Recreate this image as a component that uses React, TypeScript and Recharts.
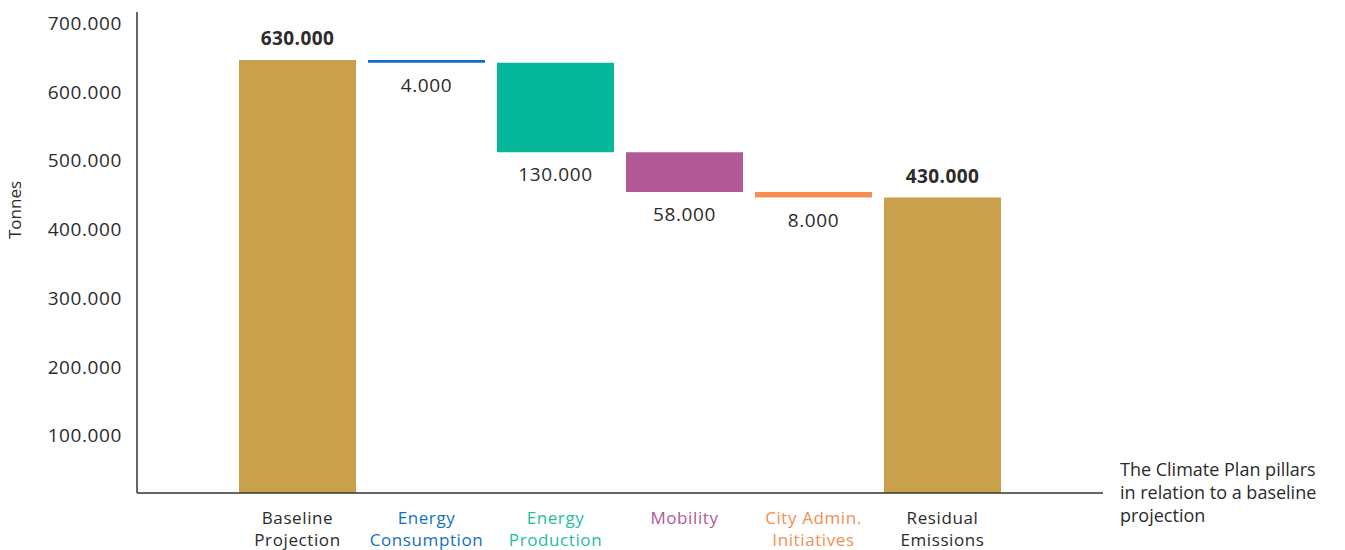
import React from 'react';
import { BarChart, Bar, XAxis, YAxis, Cell, LabelList, Label } from 'recharts';

// Waterfall values (tonnes)
const categories = [
  'Baseline Projection',
  'Energy Consumption',
  'Energy Production',
  'Mobility',
  'City Admin. Initiatives',
  'Residual Emissions',
];
const changes = [630000, -4000, -130000, -58000, -8000, 430000];
const isTotal = [true, false, false, false, false, true];
const tickLines = [
  ['Baseline', 'Projection'],
  ['Energy', 'Consumption'],
  ['Energy', 'Production'],
  ['Mobility'],
  ['City Admin.', 'Initiatives'],
  ['Residual', 'Emissions'],
];
const yTicks = [100000, 200000, 300000, 400000, 500000, 600000, 700000];
const noteLines = ['The Climate Plan pillars', 'in relation to a baseline', 'projection'];

const barColors = ['#C9A14C', '#0F6EBE', '#05B89B', '#B25896', '#F78F52', '#C9A14C'];
const labelColors = ['#2b2b2b', '#1470BF', '#1DBE9F', '#B25896', '#F58D54', '#2b2b2b'];

const FONT = '"Open Sans", Lato, sans-serif';
const TEXT = '#2b2b2b';

const fmt = (n: number) => String(Math.abs(n)).replace(/\B(?=(\d{3})+(?!\d))/g, '.');

// build base/amount pairs for the stacked waterfall
let running = 0;
const data = categories.map((name, i) => {
  const c = changes[i];
  let base = 0;
  let amount = 0;
  if (isTotal[i]) {
    base = 0;
    amount = c;
    running = c;
  } else {
    running += c;
    base = running;
    amount = -c;
  }
  return { name, base, amount };
});

const YTick = ({ x, y, payload }: any) => (
  <text x={x} y={y} dy={18} textAnchor="end" fontSize={19} letterSpacing={0.6} fill={TEXT} fontFamily={FONT}>
    {fmt(payload.value)}
  </text>
);

const XTick = ({ x, y, index }: any) => {
  const lines = tickLines[index] || [];
  return (
    <text x={x} y={y} textAnchor="middle" fontSize={17} letterSpacing={0.6} fill={labelColors[index]} fontFamily={FONT}>
      {lines.map((l, i) => (
        <tspan key={i} x={x} dy={i === 0 ? 29 : 22}>
          {l}
        </tspan>
      ))}
    </text>
  );
};

const ValueLabel = ({ x, y, width, height, index }: any) => {
  const cx = x + width / 2;
  if (isTotal[index]) {
    return (
      <text x={cx} y={y - 15} textAnchor="middle" fontSize={19} fontWeight={700} letterSpacing={0.4} fill={TEXT} fontFamily={FONT}>
        {fmt(changes[index])}
      </text>
    );
  }
  return (
    <text x={cx} y={y + height + 29} textAnchor="middle" fontSize={19} letterSpacing={0.6} fill={TEXT} fontFamily={FONT}>
      {fmt(changes[index])}
    </text>
  );
};

const App = () => {
  return (
    <div style={{ position: 'absolute', left: 0, top: 0, width: 1345, height: 550, background: '#fff' }}>
      <BarChart
        width={1345}
        height={550}
        data={data}
        margin={{ top: 12, right: 242, bottom: 0, left: 0 }}
        barSize={117}
      >
        <XAxis
          dataKey="name"
          padding={{ left: 96, right: 96 }}
          axisLine={{ stroke: '#333', strokeWidth: 1.5 }}
          tickLine={false}
          tickSize={0}
          tick={<XTick />}
          interval={0}
          height={57}
        />
        <YAxis
          width={137}
          domain={[0, 700000]}
          ticks={yTicks}
          axisLine={{ stroke: '#333', strokeWidth: 1.5 }}
          tickLine={false}
          tickSize={0}
          tickMargin={15}
          tick={<YTick />}
        >
          <Label
            content={() => (
              <text
                x={21}
                y={210}
                transform="rotate(-90, 21, 210)"
                textAnchor="middle"
                fontSize={17}
                fill={TEXT}
                fontFamily={FONT}
              >
                Tonnes
              </text>
            )}
          />
        </YAxis>
        <Bar dataKey="base" stackId="w" fill="transparent" isAnimationActive={false} />
        <Bar dataKey="amount" stackId="w" isAnimationActive={false}>
          {data.map((d, i) => (
            <Cell key={d.name} fill={barColors[i]} />
          ))}
          <LabelList dataKey="amount" content={<ValueLabel />} />
        </Bar>
      </BarChart>
      <div
        style={{
          position: 'absolute',
          left: 1120,
          top: 458,
          fontFamily: FONT,
          fontSize: 18,
          lineHeight: '23px',
          color: TEXT,
          whiteSpace: 'nowrap',
        }}
      >
        {noteLines.map((l) => (
          <div key={l}>{l}</div>
        ))}
      </div>
    </div>
  );
};

export default App;
